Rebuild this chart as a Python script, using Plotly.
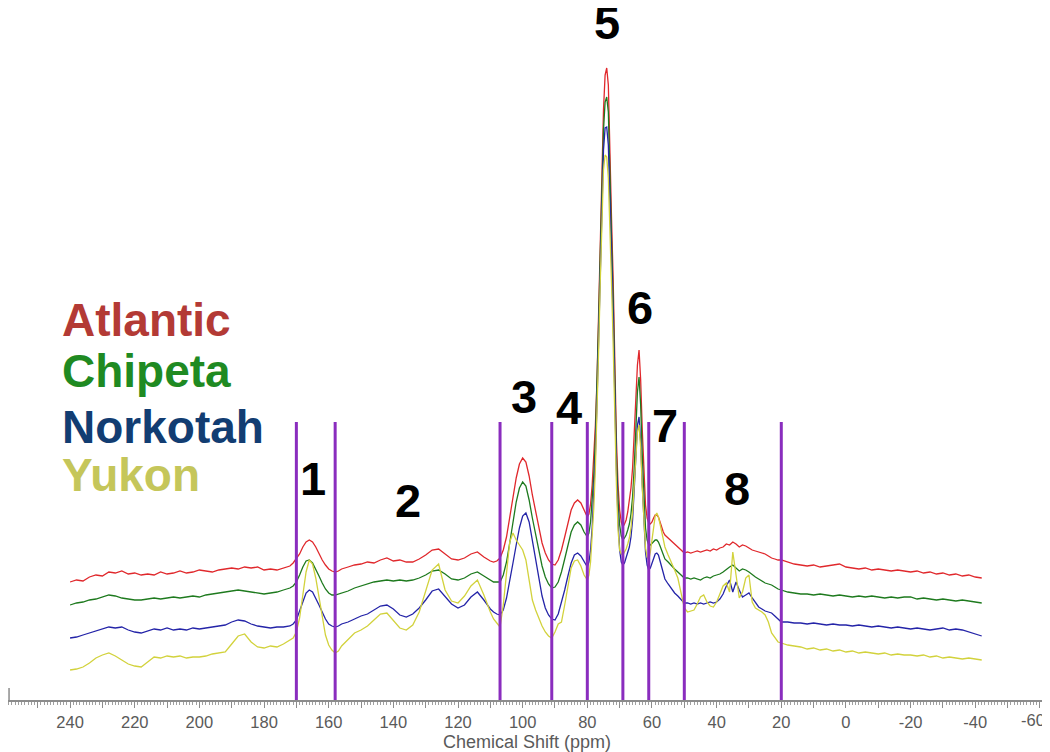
import plotly.graph_objects as go

# ---- data: chemical shift grid (ppm) ----
ppm = [240, 238, 236, 234, 232, 230, 228, 226, 224, 222, 220, 218, 216, 214, 212, 210, 208, 206, 204, 202,
       200, 198, 196, 194, 192, 190, 188, 186, 184, 182, 180, 178, 176, 174, 172,
       171, 170, 169, 168, 167, 166, 165, 164, 163, 162, 161, 160, 159, 158, 157,
       156, 154, 152, 150, 148, 146, 144, 142, 140, 138, 136, 134, 132, 130, 128, 126, 124, 122, 120, 118,
       116, 114, 112, 110,
       109, 108, 107, 106, 105, 104, 103, 102, 101, 100, 99, 98, 97, 96, 95, 94, 93, 92, 91, 90, 89, 88, 87,
       86, 85, 84, 83, 82, 81,
       80, 79.5, 79, 78.5, 78, 77.5, 77, 76.5, 76, 75.5, 75, 74.5, 74, 73.5, 73, 72.5, 72, 71.5, 71, 70.5,
       70, 69.5, 69, 68.5, 68, 67.5, 67, 66.5, 66, 65.5, 65, 64.5, 64, 63.5, 63, 62.5, 62, 61.5, 61, 60.5,
       60, 59.5, 59, 58.5, 58, 57.5, 57, 56.5, 56,
       55, 54, 53, 52, 51, 50, 49, 48, 47, 46, 45, 44, 43, 42, 41, 40, 39, 38, 37, 36, 35, 34, 33, 32, 31,
       30, 29, 28, 27, 26, 25, 24, 23, 22, 21, 20,
       18, 16, 14, 12, 10, 8, 6, 4, 2, 0, -2, -4, -6, -8, -10, -12, -14, -16, -18, -20, -22, -24, -26, -28,
       -30, -32, -34, -36, -38, -40, -42]

# stacked intensities (arbitrary units, as displayed)
atlantic = [118, 120, 119, 123, 125, 124, 128, 127, 129, 126, 127, 125, 126, 125, 128, 126, 127, 129, 127, 128,
            130, 129, 128, 130, 131, 132, 131, 133, 132, 133, 130, 131, 130, 132, 134,
            137, 141, 146, 153, 158, 160, 158, 153, 146, 140, 135, 131, 129, 128, 129,
            131, 133, 135, 136, 138, 137, 140, 142, 139, 140, 138, 138, 141, 145, 150, 151, 146, 141, 140, 142,
            146, 148, 143, 139,
            138, 139, 142, 150, 163, 182, 203, 222, 236, 242, 238, 224, 205, 188, 170, 157, 147, 140, 136, 135,
            140, 150, 163, 178, 190, 197, 200, 197, 190,
            183, 186, 196, 215, 240, 275, 320, 390, 460, 530, 590, 625, 632, 615, 560, 480, 420, 330, 260, 215,
            190, 178, 173, 176, 180, 188, 198, 212, 232, 262, 300, 335, 350, 320, 270, 225, 195, 182, 177, 176,
            178, 182, 185, 185, 183, 178, 172, 168, 165,
            162, 158, 156, 153, 150, 147, 148, 147, 148, 149, 148, 149, 150, 149, 151, 150, 152, 153, 156, 155,
            158, 156, 153, 155, 154, 152, 150, 149, 148, 147, 146, 144, 142, 141, 140, 140,
            138, 136, 135, 134, 135, 133, 134, 135, 136, 133, 132, 131, 132, 130, 131, 130, 129, 130, 129, 128,
            129, 127, 128, 126, 127, 125, 126, 124, 125, 123, 122]

chipeta = [95, 97, 98, 100, 101, 103, 105, 104, 102, 101, 100, 100, 101, 102, 101, 102, 103, 102, 103, 104,
           103, 105, 106, 107, 108, 109, 110, 109, 108, 107, 106, 107, 108, 110, 112,
           114, 118, 125, 133, 139, 140, 137, 131, 124, 117, 111, 107, 105, 105, 106,
           107, 109, 112, 114, 116, 118, 119, 120, 119, 120, 119, 120, 122, 125, 129, 130, 126, 121, 120, 122,
           126, 128, 124, 120,
           118, 118, 118, 125, 138, 157, 178, 198, 212, 218, 214, 200, 182, 165, 148, 134, 123, 116, 112, 113,
           118, 128, 141, 155, 168, 175, 178, 175, 168,
           163, 167, 178, 198, 225, 262, 310, 378, 445, 515, 570, 598, 603, 588, 535, 460, 400, 315, 245, 200,
           175, 164, 160, 162, 165, 170, 176, 186, 203, 232, 270, 308, 323, 295, 245, 200, 172, 160, 155, 155,
           157, 159, 160, 160, 158, 154, 149, 145, 141,
           138, 134, 131, 128, 125, 122, 122, 121, 122, 121, 120, 122, 123, 122, 124, 125, 126, 128, 131, 133,
           135, 132, 129, 131, 130, 128, 125, 123, 121, 119, 117, 116, 115, 113, 111, 110,
           108, 107, 106, 106, 105, 106, 105, 104, 105, 104, 103, 104, 103, 104, 103, 102, 103, 102, 103, 103,
           101, 102, 101, 100, 101, 100, 99, 100, 99, 98, 97]

norkotah = [62, 63, 65, 67, 69, 71, 73, 72, 73, 70, 68, 67, 69, 71, 70, 72, 70, 71, 70, 72,
            71, 72, 73, 74, 75, 78, 80, 79, 76, 74, 73, 72, 73, 73, 74,
            76, 80, 88, 98, 107, 110, 108, 102, 95, 88, 81, 76, 74, 73, 74,
            76, 78, 81, 84, 86, 90, 94, 95, 91, 85, 83, 86, 92, 100, 109, 111, 104, 96, 92, 95,
            103, 108, 100, 91,
            88, 86, 85, 90, 102, 118, 137, 155, 172, 184, 187, 178, 160, 140, 120, 104, 92, 85, 81, 80,
            86, 97, 110, 124, 137, 145, 147, 144, 138,
            133, 138, 150, 172, 203, 245, 298, 365, 432, 500, 550, 572, 573, 555, 505, 440, 380, 300, 230, 180,
            150, 138, 135, 137, 142, 147, 153, 163, 180, 210, 245, 275, 283, 258, 215, 175, 148, 135, 130, 132,
            137, 142, 146, 147, 145, 139, 132, 126, 121,
            116, 111, 107, 104, 100, 97, 97, 96, 97, 96, 97, 96, 97, 98, 97, 98, 101, 106, 114, 120,
            108, 118, 110, 103, 105, 107, 102, 97, 93, 91, 89, 88, 87, 84, 81, 78,
            78, 77, 77, 76, 77, 76, 75, 76, 75, 75, 74, 75, 74, 73, 74, 73, 72, 73, 72, 71,
            72, 71, 70, 71, 72, 70, 71, 70, 68, 66, 64]

yukon = [30, 31, 33, 37, 42, 45, 47, 44, 40, 36, 34, 33, 38, 43, 42, 44, 43, 44, 42, 43,
         43, 44, 46, 47, 48, 56, 64, 66, 58, 53, 52, 54, 53, 56, 60,
         62, 68, 82, 105, 128, 140, 136, 122, 102, 82, 65, 55, 50, 47, 49,
         54, 60, 67, 70, 74, 80, 86, 87, 80, 72, 70, 75, 88, 108, 130, 136, 110, 99, 97, 104,
         114, 120, 105, 88,
         81, 77, 73, 95, 130, 158, 167, 160, 155, 150, 140, 120, 100, 90, 82, 74, 68, 64, 62, 68,
         76, 78, 95, 115, 132, 139, 140, 134, 125,
         120, 125, 138, 160, 192, 232, 285, 350, 418, 485, 530, 545, 543, 522, 475, 415, 355, 280, 215, 170,
         150, 146, 145, 148, 151, 156, 162, 172, 188, 215, 245, 268, 275, 252, 212, 175, 152, 143, 140, 148,
         162, 175, 184, 187, 183, 176, 168, 160, 153,
         145, 138, 130, 122, 108, 92, 88, 89, 90, 96, 103, 105, 98, 94, 93, 98, 106, 114, 117, 108,
         148, 122, 102, 108, 122, 125, 98, 92, 90, 88, 85, 78, 67, 62, 58, 57,
         55, 54, 53, 51, 52, 50, 51, 49, 50, 48, 49, 47, 48, 47, 46, 47, 45, 46, 45, 45,
         44, 45, 43, 44, 42, 43, 42, 41, 42, 41, 40]

series_names = ["Atlantic", "Chipeta", "Norkotah", "Yukon"]
series_values = [atlantic, chipeta, norkotah, yukon]

for s in series_values:
    assert len(s) == len(ppm), (len(s), len(ppm))

# integration region boundaries (ppm) and region numbers
region_bounds = [170, 158, 107, 91, 80, 69, 61, 50, 20]
region_labels = ["1", "2", "3", "4", "5", "6", "7", "8"]
label_ppm = [165, 135.5, 99.6, 85.7, 74, 63.7, 56, 33.7]
label_level = [222, 200, 304, 293, 678, 393, 275, 212]

# tick labels every 20 ppm; the last one (-60) is nudged inward like in the source figure
tick_values = list(range(250, -61, -10))
tick_text = [str(v) if (v % 20 == 0 and v > -60) else "" for v in tick_values]
end_label = "-60"

# ---- styling ----
line_colors = ["#E0282C", "#1E7A1E", "#2424A8", "#D2D23C"]
name_colors = ["#B33A35", "#1F8A22", "#123D72", "#C5C65A"]
bound_color = "#8A2DBE"
axis_color = "#8C8C8C"
text_gray = "#5A5A5A"
bound_top = 278
legend_levels = [380, 329, 273, 225]
legend_left = 243

fig = go.Figure()
for name, vals, col in zip(series_names, series_values, line_colors):
    fig.add_trace(go.Scatter(x=ppm, y=vals, mode="lines", name=name,
                             line=dict(color=col, width=1.3), showlegend=False))

for b in region_bounds:
    fig.add_shape(type="line", xref="x", yref="y", x0=b, x1=b, y0=0, y1=bound_top,
                  line=dict(color=bound_color, width=3), layer="above")

# small end mark at the left end of the axis
fig.add_shape(type="line", xref="paper", yref="y", x0=0.001, x1=0.001, y0=0, y1=12,
              line=dict(color=axis_color, width=1.5))

for lab, xp, yp in zip(region_labels, label_ppm, label_level):
    fig.add_annotation(x=xp, y=yp, xref="x", yref="y", text="<b>%s</b>" % lab, showarrow=False,
                       font=dict(family="Liberation Sans, Arial", size=47, color="#000000"),
                       xanchor="center", yanchor="middle")

for name, col, yl in zip(series_names, name_colors, legend_levels):
    fig.add_annotation(x=legend_left, y=yl, xref="x", yref="y", text="<b>%s</b>" % name, showarrow=False,
                       font=dict(family="Liberation Sans, Arial", size=46, color=col),
                       xanchor="left", yanchor="middle")

fig.add_annotation(x=-57.8, y=-0.0289, xref="x", yref="paper", text=end_label, showarrow=False,
                   font=dict(family="Liberation Sans, Arial", size=16.5, color=text_gray),
                   xanchor="center", yanchor="middle")

fig.add_annotation(x=0.499, y=-0.0607, xref="paper", yref="paper", text="Chemical Shift (ppm)",
                   showarrow=False, font=dict(family="Liberation Sans, Arial", size=18, color=text_gray),
                   xanchor="center", yanchor="middle")

# The page body has an 8px margin: the figure is sized so that it fills the 1050x752 window.
fig.update_layout(
    width=1042, height=744,
    margin=dict(l=0, r=2, t=0, b=52),
    paper_bgcolor="white", plot_bgcolor="white",
    font=dict(family="Liberation Sans, Arial", color=text_gray),
    xaxis=dict(range=[259.2, -62.5], showline=True, linecolor=axis_color, linewidth=1.5,
               showgrid=False, zeroline=False,
               tickmode="array", tickvals=tick_values, ticktext=tick_text,
               ticks="outside", ticklen=6, tickcolor=axis_color, tickwidth=1,
               ticklabeloverflow="allow",
               tickfont=dict(size=16.5, color=text_gray),
               minor=dict(dtick=1, tick0=0, ticks="outside", ticklen=3, tickcolor="#A0A0A0", tickwidth=1)),
    yaxis=dict(range=[0, 692], visible=False, fixedrange=True),
)

fig.write_html("out.html")
